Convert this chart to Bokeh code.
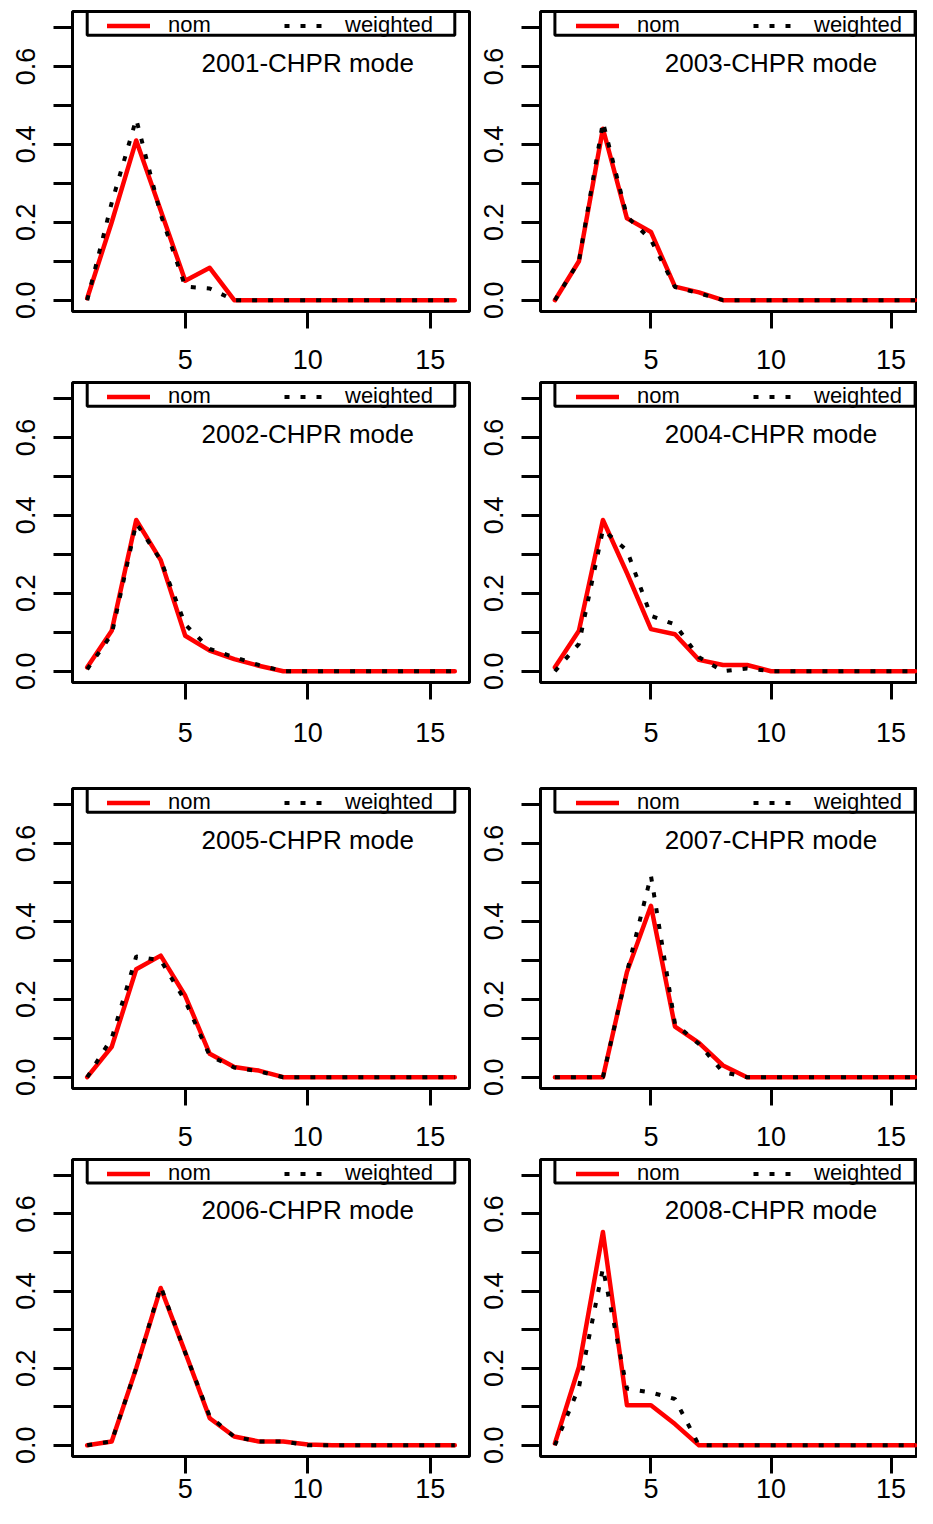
from bokeh.plotting import figure
from bokeh.layouts import gridplot
from bokeh.models import (FixedTicker, PrintfTickFormatter, Range1d, Label,
                          Legend, LegendItem, BoxAnnotation, ColumnDataSource)
from bokeh.embed import file_html
from bokeh.resources import INLINE

# ---------------- data ----------------
X = [1, 2, 3, 4, 5, 6, 7, 8, 9, 10, 11, 12, 13, 14, 15, 16]

NOM_2001 = [0.005, 0.20, 0.41, 0.23, 0.05, 0.083, 0.0, 0.0, 0.0, 0.0, 0.0, 0.0, 0.0, 0.0, 0.0, 0.0]
WEIGHTED_2001 = [0.0, 0.25, 0.465, 0.22, 0.035, 0.03, 0.0, 0.0, 0.0, 0.0, 0.0, 0.0, 0.0, 0.0, 0.0, 0.0]

NOM_2003 = [0.0, 0.10, 0.44, 0.21, 0.175, 0.035, 0.02, 0.0, 0.0, 0.0, 0.0, 0.0, 0.0, 0.0, 0.0, 0.0]
WEIGHTED_2003 = [0.0, 0.10, 0.457, 0.215, 0.155, 0.034, 0.018, 0.0, 0.0, 0.0, 0.0, 0.0, 0.0, 0.0, 0.0, 0.0]

NOM_2002 = [0.01, 0.104, 0.388, 0.285, 0.091, 0.053, 0.031, 0.014, 0.0, 0.0, 0.0, 0.0, 0.0, 0.0, 0.0, 0.0]
WEIGHTED_2002 = [0.005, 0.095, 0.38, 0.285, 0.12, 0.057, 0.036, 0.016, 0.0, 0.0, 0.0, 0.0, 0.0, 0.0, 0.0, 0.0]

NOM_2004 = [0.01, 0.104, 0.388, 0.252, 0.108, 0.095, 0.029, 0.016, 0.016, 0.0, 0.0, 0.0, 0.0, 0.0, 0.0, 0.0]
WEIGHTED_2004 = [0.0, 0.07, 0.363, 0.31, 0.142, 0.12, 0.036, 0.0, 0.007, 0.0, 0.0, 0.0, 0.0, 0.0, 0.0, 0.0]

NOM_2005 = [0.0, 0.078, 0.277, 0.312, 0.209, 0.06, 0.026, 0.017, 0.0, 0.0, 0.0, 0.0, 0.0, 0.0, 0.0, 0.0]
WEIGHTED_2005 = [0.0, 0.10, 0.31, 0.30, 0.196, 0.055, 0.025, 0.015, 0.0, 0.0, 0.0, 0.0, 0.0, 0.0, 0.0, 0.0]

NOM_2007 = [0.0, 0.0, 0.0, 0.27, 0.44, 0.13, 0.088, 0.03, 0.0, 0.0, 0.0, 0.0, 0.0, 0.0, 0.0, 0.0]
WEIGHTED_2007 = [0.0, 0.0, 0.0, 0.27, 0.517, 0.137, 0.085, 0.013, 0.0, 0.0, 0.0, 0.0, 0.0, 0.0, 0.0, 0.0]

NOM_2006 = [0.0, 0.01, 0.20, 0.408, 0.241, 0.07, 0.023, 0.01, 0.01, 0.002, 0.0, 0.0, 0.0, 0.0, 0.0, 0.0]
WEIGHTED_2006 = [0.0, 0.01, 0.20, 0.412, 0.24, 0.075, 0.022, 0.01, 0.01, 0.0, 0.0, 0.0, 0.0, 0.0, 0.0, 0.0]

NOM_2008 = [0.005, 0.203, 0.553, 0.104, 0.104, 0.055, 0.0, 0.0, 0.0, 0.0, 0.0, 0.0, 0.0, 0.0, 0.0, 0.0]
WEIGHTED_2008 = [0.0, 0.15, 0.459, 0.147, 0.137, 0.12, 0.0, 0.0, 0.0, 0.0, 0.0, 0.0, 0.0, 0.0, 0.0, 0.0]

TITLES = [["2001-CHPR mode", "2003-CHPR mode"],
          ["2002-CHPR mode", "2004-CHPR mode"],
          ["2005-CHPR mode", "2007-CHPR mode"],
          ["2006-CHPR mode", "2008-CHPR mode"]]
SERIES = [[(NOM_2001, WEIGHTED_2001), (NOM_2003, WEIGHTED_2003)],
          [(NOM_2002, WEIGHTED_2002), (NOM_2004, WEIGHTED_2004)],
          [(NOM_2005, WEIGHTED_2005), (NOM_2007, WEIGHTED_2007)],
          [(NOM_2006, WEIGHTED_2006), (NOM_2008, WEIGHTED_2008)]]

X_TICKS = [5, 10, 15]
Y_TICKS = [0.0, 0.2, 0.4, 0.6]
Y_MINOR = [0.1, 0.3, 0.5, 0.7]
LEGEND_LABELS = ["nom", "weighted"]

# ---------------- layout ----------------
ROW_H = [380, 380, 397, 351]
ROW_TOP = [11, 2, 28, 2]
ROW_FRAME = [300, 300, 300, 297]
ROW_XSTAND = [21, 23, 21, 5]
COL_W = [473, 444]
COL_LEFT = [72, 67]
COL_RIGHT = [4, 0]
COL_XEND = [16.6, 16.1]
COL_LEGX = [35, 36]
Y0, Y1 = -0.029, 0.741

TICK_FONT = "Liberation Sans"
TEXT_FONT = "Liberation Sans"


def make_panel(r, c):
    nom, wtd = SERIES[r][c]
    h = ROW_H[r]
    top = ROW_TOP[r]
    fh = ROW_FRAME[r]
    bottom = h - top - fh
    p = figure(width=COL_W[c], height=h,
               x_range=Range1d(0.4, COL_XEND[c]), y_range=Range1d(Y0, Y1),
               output_backend="svg", toolbar_location=None, title=None,
               min_border_left=COL_LEFT[c], min_border_right=COL_RIGHT[c],
               min_border_top=top, min_border_bottom=bottom)
    p.xgrid.visible = False
    p.ygrid.visible = False
    p.background_fill_color = "white"
    p.border_fill_color = "white"
    p.outline_line_color = "black"
    p.outline_line_width = 3

    src = ColumnDataSource(dict(x=X, nom=nom, wtd=wtd))
    r_nom = p.line("x", "nom", source=src, line_color="red", line_width=4.5,
                   line_join="round", line_cap="round")
    r_wtd = p.line("x", "wtd", source=src, line_color="black", line_width=4,
                   line_dash="5 11", line_cap="butt")

    # x axis
    xa = p.xaxis[0]
    xa.ticker = FixedTicker(ticks=X_TICKS)
    xa.axis_line_color = None
    xa.major_tick_in = 0
    xa.major_tick_out = 17
    xa.major_tick_line_width = 3
    xa.major_tick_line_color = "black"
    xa.minor_tick_line_color = None
    xa.major_label_text_font = TICK_FONT
    xa.major_label_text_font_size = "27px"
    xa.major_label_text_color = "black"
    xa.major_label_standoff = ROW_XSTAND[r]

    # y axis
    ya = p.yaxis[0]
    ya.ticker = FixedTicker(ticks=Y_TICKS, minor_ticks=Y_MINOR)
    ya.formatter = PrintfTickFormatter(format="%.1f")
    ya.axis_line_color = None
    ya.major_tick_in = 0
    ya.major_tick_out = 19
    ya.minor_tick_in = 0
    ya.minor_tick_out = 19
    ya.major_tick_line_width = 3
    ya.minor_tick_line_width = 3
    ya.major_tick_line_color = "black"
    ya.minor_tick_line_color = "black"
    ya.major_label_orientation = "vertical"
    ya.major_label_text_font = TICK_FONT
    ya.major_label_text_font_size = "27px"
    ya.major_label_text_color = "black"
    ya.major_label_standoff = 18

    # legend frame box
    box = BoxAnnotation(left=X[0], right=X[-1], bottom=0.68, top=Y1,
                        fill_alpha=0, line_color="black", line_alpha=1.0,
                        line_width=3)
    p.add_layout(box)

    legend = Legend(items=[LegendItem(label=LEGEND_LABELS[0], renderers=[r_nom]),
                           LegendItem(label=LEGEND_LABELS[1], renderers=[r_wtd])],
                    orientation="horizontal", location=(COL_LEGX[c], fh - 27),
                    padding=0, margin=0, spacing=26,
                    glyph_width=43, glyph_height=25,
                    label_width=90, label_height=25, label_standoff=18,
                    label_text_font=TEXT_FONT, label_text_font_size="22px",
                    label_text_color="black",
                    border_line_alpha=0, background_fill_alpha=0)
    p.add_layout(legend)

    p.add_layout(Label(x=10, y=0.61, text=TITLES[r][c], text_align="center",
                       text_baseline="middle", text_font=TEXT_FONT,
                       text_font_size="26px", text_color="black"))
    return p


panels = [[make_panel(r, c) for c in range(2)] for r in range(4)]
grid = gridplot(panels, toolbar_location=None)

open("out.html", "w").write(file_html(grid, INLINE))
